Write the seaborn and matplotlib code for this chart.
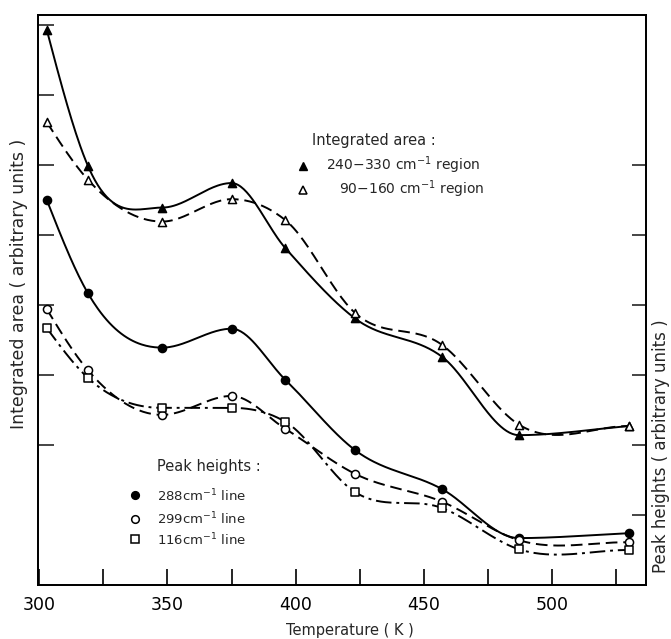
import numpy as np
import pandas as pd
import matplotlib
matplotlib.use("Agg")
import matplotlib.pyplot as plt
from matplotlib.lines import Line2D
import seaborn as sns

# ---------------- data ----------------
temperature = [303, 319, 348, 375, 396, 423, 457, 487, 530]
area_240_330 = [7.93, 5.99, 5.39, 5.74, 4.81, 3.81, 3.26, 2.14, 2.27]
area_90_160 = [6.61, 5.79, 5.19, 5.51, 5.21, 3.89, 3.43, 2.29, 2.27]
peak_288 = [5.50, 4.17, 3.39, 3.66, 2.93, 1.93, 1.37, 0.67, 0.74]
peak_299 = [3.94, 3.07, 2.43, 2.70, 2.23, 1.59, 1.19, 0.64, 0.61]
peak_116 = [3.67, 2.96, 2.53, 2.53, 2.33, 1.33, 1.10, 0.51, 0.50]

x_major = [300, 350, 400, 450, 500]
x_minor = [325, 375, 425, 475, 525]
left_ticks = [2, 3, 4, 5, 6, 7, 8]
right_ticks = [1, 2, 3, 4, 5, 6]

series = [
    (area_240_330, "^", True, "-"),
    (area_90_160, "^", False, (0, (6, 3))),
    (peak_288, "o", True, "-"),
    (peak_299, "o", False, (0, (6, 3))),
    (peak_116, "s", False, (0, (8, 2.5, 1.5, 2.5))),
]


def smooth_curve(x, y, xs):
    """Hermite curve drawn through the measured points (flat at local extrema)."""
    x = np.asarray(x, float)
    y = np.asarray(y, float)
    n = len(x)
    h = np.diff(x)
    d = np.diff(y) / h
    m = np.zeros(n)
    for i in range(1, n - 1):
        if d[i - 1] * d[i] <= 0:
            m[i] = 0.0
        else:
            m[i] = (h[i] * d[i - 1] + h[i - 1] * d[i]) / (h[i - 1] + h[i])
    m[0] = 1.5 * d[0] - 0.5 * m[1]
    m[-1] = d[-1]
    idx = np.clip(np.searchsorted(x, xs) - 1, 0, n - 2)
    t = (xs - x[idx]) / h[idx]
    h00 = 2 * t ** 3 - 3 * t ** 2 + 1
    h10 = t ** 3 - 2 * t ** 2 + t
    h01 = -2 * t ** 3 + 3 * t ** 2
    h11 = t ** 3 - t ** 2
    return (h00 * y[idx] + h10 * h[idx] * m[idx]
            + h01 * y[idx + 1] + h11 * h[idx] * m[idx + 1])


# ---------------- figure ----------------
sns.set_style("white")
plt.rcParams["font.family"] = ["DejaVu Sans"]
plt.rcParams["mathtext.fontset"] = "dejavusans"

W, H = 671, 639
fig = plt.figure(figsize=(W / 100, H / 100), dpi=100)
L, R, T, B = 38, 646, 15, 585
ax = fig.add_axes([L / W, 1 - B / H, (R - L) / W, (B - T) / H])


def fx(px):
    return px / W


def fy(py):
    return 1 - py / H


xs = np.linspace(temperature[0], temperature[-1], 400)
for vals, mk, filled, ls in series:
    smooth = pd.DataFrame({"T": xs, "v": smooth_curve(temperature, vals, xs)})
    sns.lineplot(data=smooth, x="T", y="v", ax=ax, color="black", lw=1.4,
                 linestyle=ls, sort=False, estimator=None)
    pts = pd.DataFrame({"T": temperature, "v": vals})
    sns.scatterplot(data=pts, x="T", y="v", ax=ax, marker=mk,
                    s=34 if mk != "s" else 30,
                    facecolor="black" if filled else "white",
                    edgecolor="black", linewidth=1.1, zorder=5)

ax.set_xlim(299.6, 536.5)
ax.set_ylim(0, 8.14)
ax.set_xlabel("")
ax.set_ylabel("")
ax.set_xticks(x_major)
ax.set_xticks(x_minor, minor=True)
ax.set_xticklabels([str(v) for v in x_major], fontsize=12.5)
ax.set_yticks(left_ticks)
ax.set_yticklabels([])
ax.tick_params(axis="x", which="both", direction="in", length=11.5, width=1.2,
               pad=8, bottom=True, top=False, colors="black")
ax.tick_params(axis="y", which="both", direction="in", length=11.5, width=1.2,
               left=True, right=False)

ax2 = ax.twinx()
ax2.set_ylim(ax.get_ylim())
ax2.set_yticks(right_ticks)
ax2.set_yticklabels([])
ax2.tick_params(axis="y", direction="in", length=10, width=1.2, right=True)

for a in (ax, ax2):
    for sp in a.spines.values():
        sp.set_color("black")
        sp.set_linewidth(1.3)

# axis labels
fig.text(fx(350), fy(631), "Temperature ( K )", fontsize=10.5, ha="center", va="center")
fig.text(fx(19), fy(284), "Integrated area ( arbitrary units )", fontsize=12.5,
         rotation=90, ha="center", va="center")
fig.text(fx(661), fy(446), "Peak heights ( arbitrary units )", fontsize=12,
         rotation=90, ha="center", va="center")

# key: integrated area
fig.text(fx(312), fy(140), "Integrated area :", fontsize=10.5, ha="left", va="center")
fig.text(fx(326), fy(165), r"240$-$330 cm$^{-1}$ region", fontsize=10, ha="left", va="center")
fig.text(fx(339), fy(189), r"90$-$160 cm$^{-1}$ region", fontsize=10, ha="left", va="center")
fig.add_artist(Line2D([fx(303)], [fy(166)], marker="^", ms=5.5, color="black",
                      mfc="black", ls="none", transform=fig.transFigure))
fig.add_artist(Line2D([fx(303)], [fy(190)], marker="^", ms=5.5, color="black",
                      mfc="white", mew=1.1, ls="none", transform=fig.transFigure))

# key: peak heights
fig.text(fx(157), fy(466), "Peak heights :", fontsize=10.5, ha="left", va="center")
fig.text(fx(157), fy(496), r"288cm$^{-1}$ line", fontsize=9.5, ha="left", va="center")
fig.text(fx(157), fy(519), r"299cm$^{-1}$ line", fontsize=9.5, ha="left", va="center")
fig.text(fx(157), fy(540), r"116cm$^{-1}$ line", fontsize=9.5, ha="left", va="center")
for py, mk, fc in [(495, "o", "black"), (519, "o", "white"), (539, "s", "white")]:
    fig.add_artist(Line2D([fx(135)], [fy(py)], marker=mk, ms=5.5, color="black",
                          mfc=fc, mew=1.1, ls="none", transform=fig.transFigure))

fig.savefig("out.png", dpi=100)
